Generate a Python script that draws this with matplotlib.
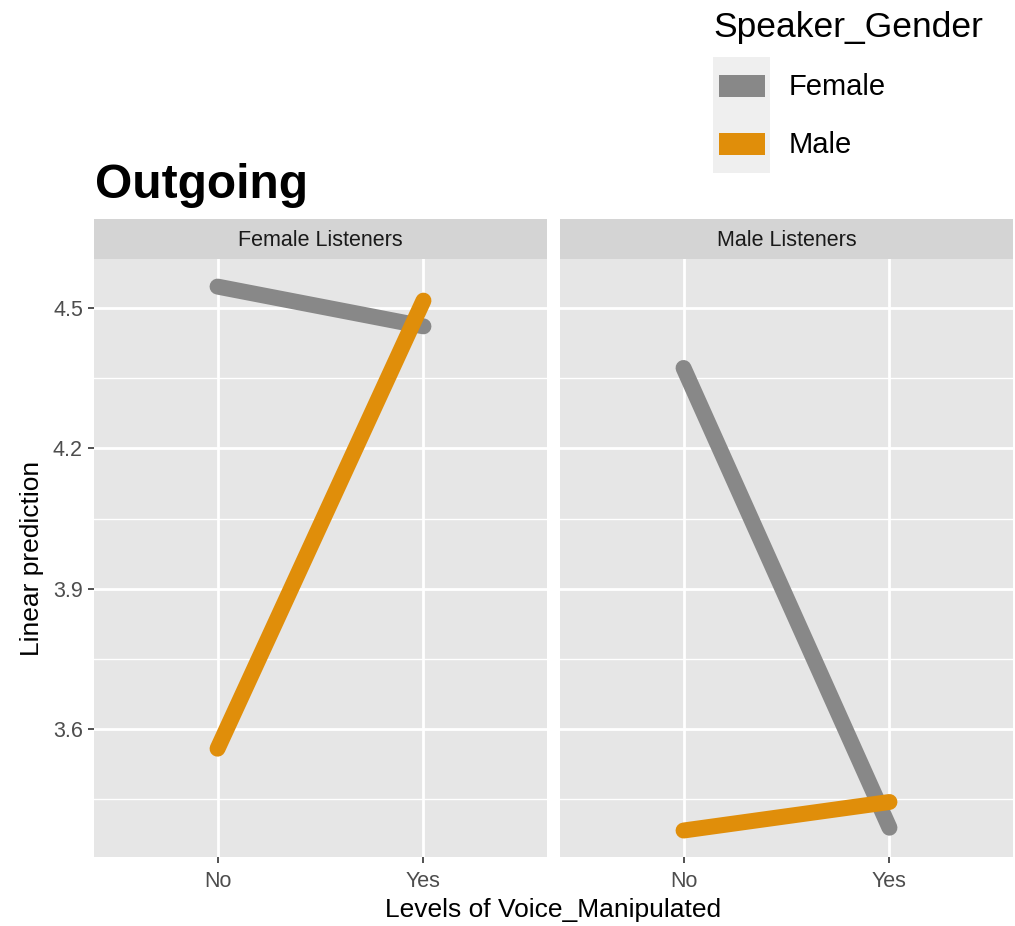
"""Interaction plot: predicted Outgoing rating by voice manipulation, speaker and listener gender."""

import matplotlib
matplotlib.use("Agg")
import matplotlib.pyplot as plt
from matplotlib.patches import Rectangle

# ── data ─────────────────────────────────────────────────────────────────────
levels = ["No", "Yes"]
listener_panels = ["Female Listeners", "Male Listeners"]
speaker_groups = ["Female", "Male"]

female_listeners_female_speaker = [4.546, 4.461]
female_listeners_male_speaker = [3.558, 4.516]
male_listeners_female_speaker = [4.372, 3.389]
male_listeners_male_speaker = [3.383, 3.444]

y_ticks = [3.6, 3.9, 4.2, 4.5]
y_minor = [3.45, 3.75, 4.05, 4.35]

# ── style ────────────────────────────────────────────────────────────────────
GREY_LINE = "#888888"
ORANGE_LINE = "#E08E0A"
PANEL_BG = "#E6E6E6"
STRIP_BG = "#D4D4D4"
KEY_BG = "#EFEFEF"
TICK_TEXT = "#4D4D4D"
TICK_MARK = "#333333"
colours = {"Female": GREY_LINE, "Male": ORANGE_LINE}

plt.rcParams["font.family"] = ["Liberation Sans", "DejaVu Sans"]

W, H = 1015, 926
fig = plt.figure(figsize=(W / 100, H / 100), dpi=100, facecolor="white")


def px_box(x0, y0, x1, y1):
    """Pixel box (top-left origin) -> figure fraction rect."""
    return [x0 / W, 1 - y1 / H, (x1 - x0) / W, (y1 - y0) / H]


panel_x = [(94, 547), (560, 1013)]
panel_top, panel_bottom, strip_top = 259, 857, 219

series = {
    "Female Listeners": {"Female": female_listeners_female_speaker,
                         "Male": female_listeners_male_speaker},
    "Male Listeners": {"Female": male_listeners_female_speaker,
                       "Male": male_listeners_male_speaker},
}

for i, (panel, (x0, x1)) in enumerate(zip(listener_panels, panel_x)):
    ax = fig.add_axes(px_box(x0, panel_top, x1, panel_bottom))
    ax.set_facecolor(PANEL_BG)
    for spine in ax.spines.values():
        spine.set_visible(False)

    xs = list(range(1, len(levels) + 1))
    for sp in speaker_groups:
        ax.plot(xs, series[panel][sp], color=colours[sp], linewidth=11.5,
                solid_capstyle="round", zorder=3)

    ax.set_xlim(0.4, len(levels) + 0.6)
    ax.set_ylim(3.3264, 4.605)
    ax.set_xticks(xs)
    ax.set_xticklabels(levels)
    ax.set_yticks(y_ticks)
    ax.set_yticks(y_minor, minor=True)
    ax.grid(which="major", color="white", linewidth=2.0, zorder=0)
    ax.grid(which="minor", axis="y", color="white", linewidth=1.0, zorder=0)
    ax.set_axisbelow(True)
    ax.tick_params(which="major", length=4, width=1.2, color=TICK_MARK,
                   labelcolor=TICK_TEXT, labelsize=15.5, pad=4)
    ax.tick_params(axis="x", which="major", pad=6)
    ax.tick_params(which="minor", length=0)
    if i == 0:
        ax.set_yticklabels([f"{t:.1f}" for t in y_ticks])
    else:
        ax.tick_params(axis="y", left=False, labelleft=False)

    # facet strip
    sax = fig.add_axes(px_box(x0, strip_top, x1, panel_top))
    sax.set_facecolor(STRIP_BG)
    sax.set_xticks([])
    sax.set_yticks([])
    for spine in sax.spines.values():
        spine.set_visible(False)
    sax.text(0.5, 0.45, panel, ha="center", va="center", fontsize=15.5,
             color="#1A1A1A", transform=sax.transAxes)

# ── labels ───────────────────────────────────────────────────────────────────
fig.text(95 / W, 1 - 198 / H, "Outgoing", fontsize=34.5, fontweight="bold",
         ha="left", va="baseline", color="black")
fig.text(553 / W, 1 - 910 / H, "Levels of Voice_Manipulated", fontsize=19,
         ha="center", va="center", color="black")
fig.text(32 / W, 1 - 558 / H, "Linear prediction", fontsize=19,
         ha="center", va="center", rotation=90, color="black")

# ── legend ───────────────────────────────────────────────────────────────────
fig.text(713 / W, 1 - 37 / H, "Speaker_Gender", fontsize=25.5,
         ha="left", va="baseline", color="black")
fig.patches.append(Rectangle((713 / W, 1 - 173 / H), 57 / W, 116 / H,
                             transform=fig.transFigure, facecolor=KEY_BG,
                             edgecolor="none"))
for sp, yc in zip(speaker_groups, [86, 144]):
    fig.patches.append(Rectangle((719 / W, 1 - (yc + 11) / H), 46 / W, 22 / H,
                                 transform=fig.transFigure,
                                 facecolor=colours[sp], edgecolor="none"))
    fig.text(789 / W, 1 - (yc + 1) / H, sp, fontsize=21, ha="left",
             va="center", color="black")

fig.savefig("out.png", dpi=100, facecolor="white")
